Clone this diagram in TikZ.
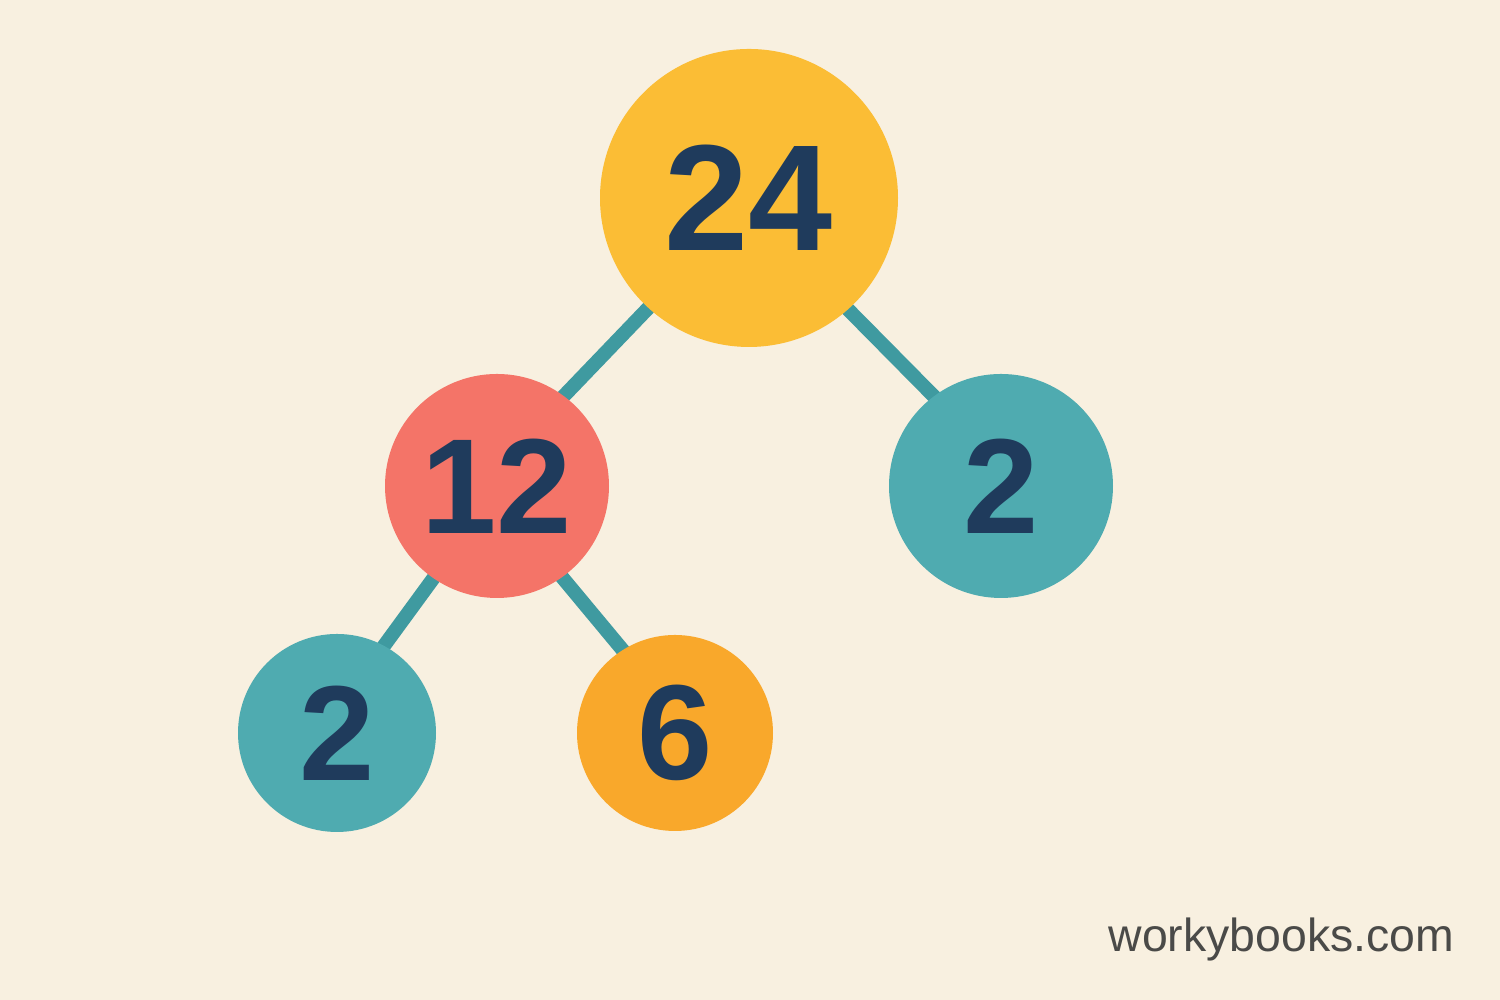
\documentclass[tikz,border=0pt]{standalone}
\usepackage{fontspec}
\setmainfont{Liberation Sans}
\definecolor{cream}{HTML}{F8F0E0}
\definecolor{sunny}{HTML}{FBBD35}
\definecolor{salmon}{HTML}{F47468}
\definecolor{tealfill}{HTML}{4FABB0}
\definecolor{tealline}{HTML}{3F9AA0}
\definecolor{amber}{HTML}{F9A82B}
\definecolor{navy}{HTML}{1F3B5C}
\definecolor{markgray}{HTML}{4A4A48}
\pgfdeclarelayer{bg}
\pgfsetlayers{bg,main}
\begin{document}
\begin{tikzpicture}[
    factor/.style={circle, inner sep=0pt, text=navy, font=\fontsize{38.5}{38.5}\bfseries},
    branch/.style={line width=4pt, tealline}]
            \useasboundingbox (0,0) rectangle (15,10);
            \begin{pgfonlayer}{bg}
                \fill [cream] (0,0) rectangle (15,10);
            \end{pgfonlayer}
            % the tree
            \node [factor, fill=sunny, minimum size=2.98cm, font=\fontsize{43}{43}\bfseries] (q24) at (7.49,8.02) {24};
            \node [factor, fill=salmon, minimum size=2.24cm] (q12) at (4.97,5.14) {12};
            \node [factor, fill=tealfill, minimum size=2.24cm] (q2r) at (10.01,5.14) {2};
            \node [factor, fill=tealfill, minimum size=1.98cm] (q2l) at (3.37,2.67) {2};
            \node [factor, fill=amber, minimum size=1.96cm] (q6) at (6.75,2.67) {6};
            \begin{pgfonlayer}{bg}
                \draw [branch] ([shift={(228.5:-0.3)}]q24.228.5) -- ([shift={(56:-0.3)}]q12.56);
                \draw [branch] ([shift={(311.5:-0.3)}]q24.311.5) -- ([shift={(124:-0.3)}]q2r.124);
                \draw [branch] ([shift={(236:-0.3)}]q12.236) -- ([shift={(65:-0.3)}]q2l.65);
                \draw [branch] ([shift={(304:-0.3)}]q12.304) -- ([shift={(119:-0.3)}]q6.119);
            \end{pgfonlayer}
            \node [anchor=base west, text=markgray, font=\fontsize{13.2}{13.2}\selectfont, inner sep=0pt] (mark) at (11.08,0.48) {workybooks.com};
\end{tikzpicture}
\end{document}
